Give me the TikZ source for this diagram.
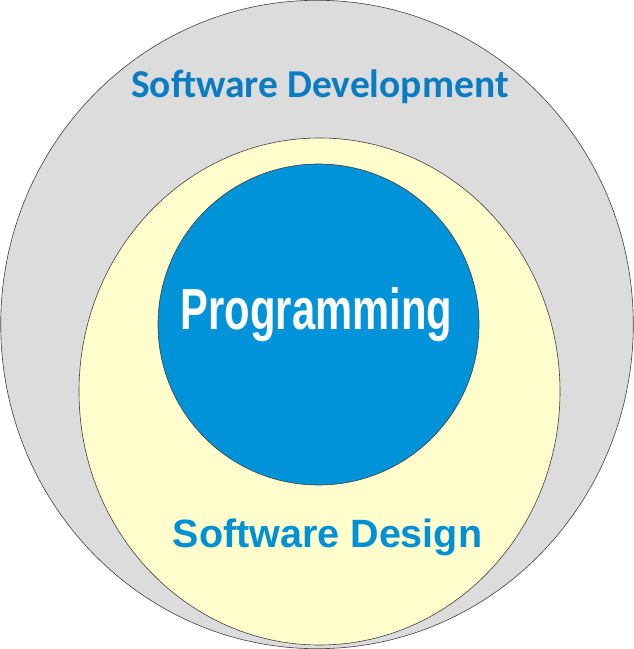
\documentclass[tikz,border=0pt]{standalone}
\usepackage{fontspec}
\newfontfamily\calibrifont{Carlito}
\newfontfamily\arialfont{Liberation Sans}
\newfontfamily\narrowfont[FakeStretch=0.72]{Liberation Sans}
\definecolor{outergray}{HTML}{DCDCDC}
\definecolor{inneryellow}{HTML}{FFFDCC}
\definecolor{coreblue}{HTML}{0093DA}
\definecolor{textblue}{HTML}{0A7DC2}
\definecolor{designblue}{HTML}{0090D6}
\begin{document}
\begin{tikzpicture}[x=1pt,y=1pt,
  ring/.style={draw=black!75, line width=0.6pt},
  lbl/.style={inner sep=0pt, anchor=base}]
\useasboundingbox (0,0) rectangle (634,649);
% outer ellipse
\path[ring, fill=outergray] (317,324.5) ellipse [x radius=316.3, y radius=324.2];
% yellow ellipse
\path[ring, fill=inneryellow] (319.5,257.5) ellipse [x radius=240.5, y radius=253.5];
% blue circle
\node[ring, fill=coreblue, circle, minimum size=321pt, inner sep=0pt] (prog) at (318.5,324.5) {};
% labels
\node[lbl, text=textblue, font=\calibrifont\bfseries\fontsize{39.5}{40}\selectfont] (dev) at (320,551) {Software Development};
\node[lbl, text=designblue, font=\arialfont\bfseries\fontsize{39.5}{40}\selectfont] (des) at (327.5,101) {Software Design};
\node[lbl, text=white, font=\narrowfont\bfseries\fontsize{58}{60}\selectfont] (ptext) at (316.5,319) {Programming};
\end{tikzpicture}
\end{document}
